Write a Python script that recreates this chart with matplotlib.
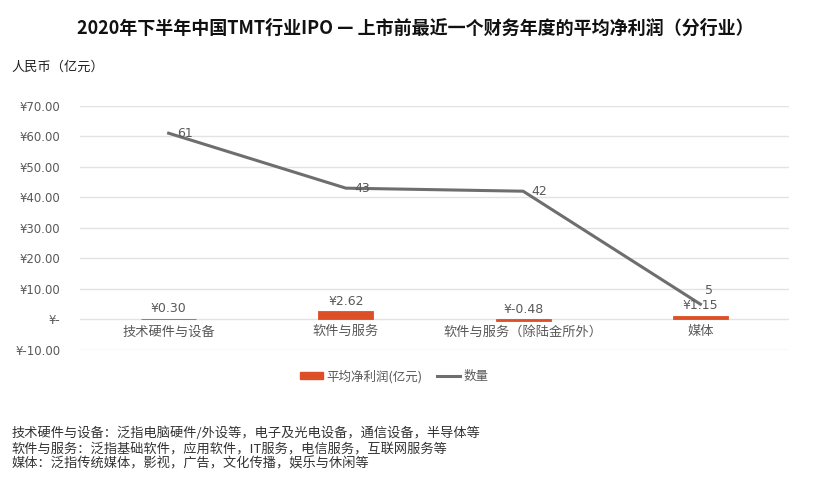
import matplotlib.pyplot as plt
from matplotlib.lines import Line2D
from matplotlib.patches import Patch

plt.rcParams['font.family'] = ['Noto Sans CJK SC', 'DejaVu Sans']

# 数据
categories = ['技术硬件与设备', '软件与服务', '软件与服务（除陆金所外）', '媒体']
profit = [0.30, 2.62, -0.48, 1.15]
count = [61, 43, 42, 5]
profit_labels = ['¥0.30', '¥2.62', '¥-0.48', '¥1.15']
yticks = [-10, 0, 10, 20, 30, 40, 50, 60, 70]
ytick_labels = ['¥-10.00', '¥-', '¥10.00', '¥20.00', '¥30.00', '¥40.00',
                '¥50.00', '¥60.00', '¥70.00']

bar_color = '#DD4F26'
line_color = '#6E6E6E'
text_color = '#595959'

fig = plt.figure(figsize=(8.3, 4.84), dpi=100)
ax = fig.add_axes([0.0964, 0.2769, 0.8542, 0.5047])

x = list(range(len(categories)))
ax.bar(x, profit, width=0.31, color=bar_color, edgecolor=bar_color,
       linewidth=0.6, alpha=1, zorder=3)
ax.plot(x, count, color=line_color, linewidth=2.2, zorder=4)

ax.set_xlim(-0.5, len(categories) - 0.5)
ax.set_ylim(-10, 70)
ax.set_yticks(yticks)
ax.set_yticklabels(ytick_labels, fontsize=8.5, color=text_color,
                   family=['DejaVu Sans'])
ax.set_xticks([])
ax.tick_params(axis='y', length=0, pad=14)
ax.grid(axis='y', color='#E3E3E3', linewidth=1, zorder=0)
for s in ax.spines.values():
    s.set_visible(False)

# 类别标签放在零线下方
for i, c in enumerate(categories):
    ax.text(i, -1.9, c, ha='center', va='top', fontsize=9.5, color=text_color)

# 柱子标签
for i, (v, lab) in enumerate(zip(profit, profit_labels)):
    y = max(v, 0) + 1.2
    ax.text(i, y, lab, ha='center', va='bottom', fontsize=9, color=text_color,
            family=['DejaVu Sans'], zorder=5)

# 折线标签
for i, v in enumerate(count):
    if i == 3:
        ax.text(i + 0.05, v + 2.5, str(v), ha='center', va='bottom', fontsize=9,
                color=text_color, family=['DejaVu Sans'], zorder=5)
    else:
        ax.text(i + 0.09, v, str(v), ha='center', va='center', fontsize=9,
                color=text_color, family=['DejaVu Sans'], zorder=5)

handles = [Patch(color=bar_color), Line2D([0], [0], color=line_color, linewidth=2.2)]
fig.legend(handles, ['平均净利润(亿元)', '数量'], loc='center',
           bbox_to_anchor=(0.475, 0.222), ncol=2, frameon=False, fontsize=9,
           handlelength=1.8, handleheight=0.5, labelcolor=text_color,
           columnspacing=1.2, handletextpad=0.3)

fig.text(0.5, 0.942, '2020年下半年中国TMT行业IPO — 上市前最近一个财务年度的平均净利润（分行业）',
         ha='center', va='center', fontsize=13, fontweight='bold', color='#111111')
fig.text(0.014, 0.862, '人民币（亿元）', ha='left', va='center', fontsize=9.5, color='#222222')

notes = ['技术硬件与设备：泛指电脑硬件/外设等，电子及光电设备，通信设备，半导体等',
         '软件与服务：泛指基础软件，应用软件，IT服务，电信服务，互联网服务等',
         '媒体：泛指传统媒体，影视，广告，文化传播，娱乐与休闲等']
for k, n in enumerate(notes):
    fig.text(0.014, 0.105 - k * 0.032, n, ha='left', va='center', fontsize=9.5,
             color='#333333')

fig.savefig('out.png', dpi=100, facecolor='white')
